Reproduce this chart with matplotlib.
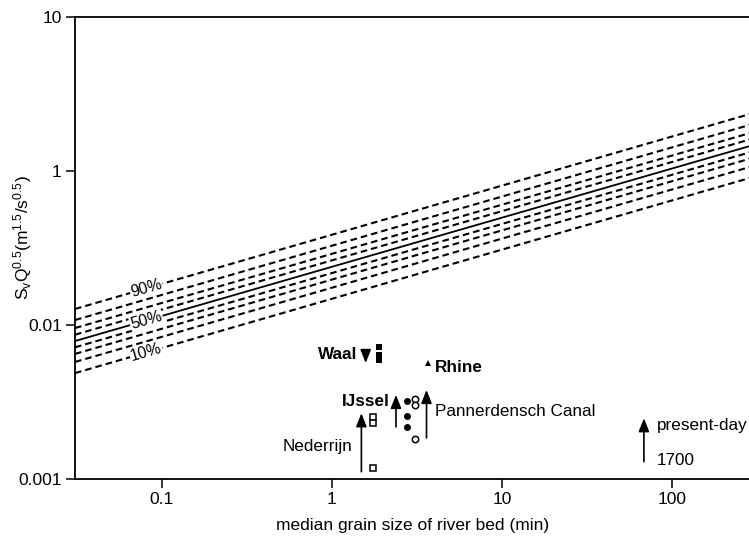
import numpy as np
import matplotlib
matplotlib.use('Agg')
import matplotlib.pyplot as plt

plt.rcParams['font.family'] = ['Liberation Sans', 'DejaVu Sans']
plt.rcParams['mathtext.fontset'] = 'custom'
plt.rcParams['mathtext.rm'] = 'Liberation Sans'
plt.rcParams['mathtext.it'] = 'Liberation Sans'

# percentile lines, values read at the two ends of the x axis
pct_names = ['10%', '20%', '30%', '40%', '50%', '60%', '70%', '80%', '90%']
x_ends = [0.0308, 290]
line_left = [0.00485, 0.00573, 0.00646, 0.00713, 0.00783, 0.00861, 0.00951, 0.01072, 0.01265]
line_right = [0.0900, 0.106, 0.120, 0.132, 0.145, 0.160, 0.176, 0.199, 0.234]

# y ticks as printed on the original figure
y_ticks = [0.001, 0.01, 0.1, 1]
y_tick_labels = ['0.001', '0.01', '1', '10']
x_ticks = [0.1, 1, 10, 100]
x_tick_labels = ['0.1', '1', '10', '100']

# river points
waal_x = [1.88, 1.88, 1.88]
waal_y = [0.00716, 0.00637, 0.00590]
rhine_x = [3.65]
rhine_y = [0.00564]
ijssel_x = [2.75, 2.76, 2.76]
ijssel_y = [0.00321, 0.00255, 0.00218]
pann_x = [3.08, 3.08, 3.08]
pann_y = [0.00329, 0.00300, 0.00181]
neder_x = [1.75, 1.75, 1.75]
neder_y = [0.00251, 0.00231, 0.00117]

# arrows 1700 -> present-day
arrow_x = [1.49, 2.38, 3.60, 1.58, 68.4]
arrow_from = [0.00111, 0.00217, 0.00184, 0.00685, 0.00129]
arrow_to = [0.00266, 0.00350, 0.00377, 0.00564, 0.00247]


def draw_lines(ax):
    for i, name in enumerate(pct_names):
        ys = [line_left[i], line_right[i]]
        if name == '50%':
            ax.plot(x_ends, ys, color='black', lw=1.3, solid_capstyle='butt')
        else:
            ax.plot(x_ends, ys, color='black', lw=1.5, linestyle=(0, (3.2, 1.9)))
        if name in ('10%', '50%', '90%'):
            # label sits on the line, slightly right of the left edge
            lx = np.log10(0.081)
            t = (lx - np.log10(x_ends[0])) / (np.log10(x_ends[1]) - np.log10(x_ends[0]))
            ly = np.log10(ys[0]) + t * (np.log10(ys[1]) - np.log10(ys[0]))
            ax.text(0.081, 10 ** ly, name, fontsize=11.5, rotation=16,
                    ha='center', va='center', rotation_mode='anchor',
                    bbox=dict(facecolor='white', edgecolor='none', pad=0.6))


def draw_points(ax):
    ax.plot(waal_x, waal_y, 's', color='black', ms=4.2, mew=0)
    ax.plot(rhine_x, rhine_y, '^', color='black', ms=4.5, mew=0)
    ax.plot(ijssel_x, ijssel_y, 'o', color='black', ms=5, mew=0)
    ax.plot(pann_x, pann_y, 'o', mfc='white', mec='black', ms=4.6, mew=1.1)
    ax.plot(neder_x, neder_y, 's', mfc='white', mec='black', ms=4.0, mew=1.1)

    for x, y0, y1 in zip(arrow_x, arrow_from, arrow_to):
        ax.annotate('', xy=(x, y1), xytext=(x, y0),
                    arrowprops=dict(arrowstyle='-|>,head_length=0.8,head_width=0.32',
                                    color='black', lw=1.2, shrinkA=0, shrinkB=0,
                                    mutation_scale=10))

    fs = 12.3
    ax.text(1.42, 0.00645, 'Waal', fontsize=fs, fontweight='bold', ha='right', va='center')
    ax.text(4.04, 0.00527, 'Rhine', fontsize=fs, fontweight='bold', ha='left', va='center')
    ax.text(2.19, 0.00317, 'IJssel', fontsize=fs, fontweight='bold', ha='right', va='center')
    ax.text(4.04, 0.00272, 'Pannerdensch Canal', fontsize=fs, ha='left', va='center')
    ax.text(1.31, 0.00162, 'Nederrijn', fontsize=fs, ha='right', va='center')
    ax.text(81.3, 0.00223, 'present-day', fontsize=fs, ha='left', va='center')
    ax.text(81.3, 0.00132, '1700', fontsize=fs, ha='left', va='center')


def draw_chart():
    fig = plt.figure(figsize=(7.49, 5.36), dpi=100)
    ax = fig.add_axes([0.1001, 0.1069, 0.902, 0.862])
    ax.set_xscale('log')
    ax.set_yscale('log')
    ax.set_xlim(x_ends[0], x_ends[1])
    ax.set_ylim(0.001, 1)

    draw_lines(ax)
    draw_points(ax)

    ax.set_xticks(x_ticks)
    ax.set_xticklabels(x_tick_labels)
    ax.set_yticks(y_ticks)
    ax.set_yticklabels(y_tick_labels)
    ax.minorticks_off()
    ax.tick_params(direction='out', length=6.5, width=1.1, labelsize=12.5, pad=3)
    for s in ['left', 'bottom', 'top']:
        ax.spines[s].set_linewidth(1.3)
    ax.spines['right'].set_visible(False)

    ax.set_xlabel('median grain size of river bed (min)', fontsize=12.5, labelpad=8)
    fig.text(0.030, 0.557, r'S$_\mathregular{v}$Q$^{0.5}$(m$^{1.5}$/s$^{0.5}$)',
             fontsize=12.5, rotation=90, ha='center', va='center')

    fig.savefig('out.png', dpi=100)


if __name__ == '__main__':
    draw_chart()
